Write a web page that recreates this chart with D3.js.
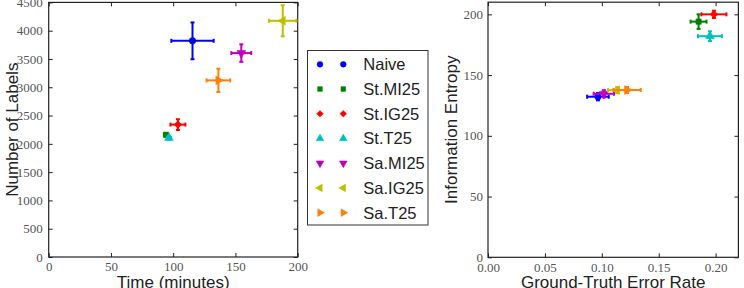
<!DOCTYPE html>
<html>
<head>
<meta charset="utf-8">
<script src="https://cdn.jsdelivr.net/npm/d3@7"></script>
<style>
  body { margin: 0; background: #fff; }
  svg { display: block; }
  .tick text { font-family: "Liberation Serif", "DejaVu Serif", serif !important; }
</style>
</head>
<body>
<svg id="chart" width="744" height="288"></svg>
<script>
(function() {
  'use strict';

  // series shown in both panels
  var seriesNames = ["Naive", "St.MI25", "St.IG25", "St.T25", "Sa.MI25", "Sa.IG25", "Sa.T25"];
  var seriesColors = ["#0000ff", "#008000", "#ff0000", "#00bfbf", "#bf00bf", "#bfbf00", "#ff7f0e"];
  var seriesMarkers = ["circle", "square", "diamond", "triUp", "triDown", "triLeft", "triRight"];

  // left panel: time vs number of labels
  var timeMinutes = [115.5, 94.2, 103.8, 96.6, 154.7, 188.0, 136.3];
  var timeErr = [17, 1.5, 6, 1.5, 8, 11, 9.5];
  var numLabels = [3821, 2160, 2340, 2105, 3604, 4175, 3122];
  var numLabelsErr = [325, 30, 95, 30, 155, 275, 205];
  var timeTicks = [0, 50, 100, 150, 200];
  var labelTicks = [0, 500, 1000, 1500, 2000, 2500, 3000, 3500, 4000, 4500];

  // right panel: error rate vs entropy
  var errorRate = [0.0966, 0.1850, 0.1985, 0.1950, 0.1018, 0.1135, 0.1222];
  var errorRateErr = [0.0095, 0.007, 0.011, 0.0105, 0.009, 0.008, 0.012];
  var entropy = [132.2, 194, 200, 182, 134.6, 137.6, 137.7];
  var entropyErr = [3, 6, 3, 4, 3, 2.5, 2.5];
  var rateTicks = [0, 0.05, 0.10, 0.15, 0.20];
  var entropyTicks = [0, 50, 100, 150, 200];

  var svg = d3.select("#chart");
  var tickFont = "Liberation Serif, DejaVu Serif, serif";
  var labelFont = "Liberation Sans, Arial, sans-serif";

  function markerPath(kind, size) {
    var sym, rot = 0;
    switch (kind) {
      case "circle": sym = d3.symbolCircle; break;
      case "square": sym = d3.symbolSquare; size = size * 0.85; break;
      case "diamond": sym = d3.symbolSquare; rot = 45; size = size * 0.85; break;
      case "triUp": sym = d3.symbolTriangle; break;
      case "triDown": sym = d3.symbolTriangle; rot = 180; break;
      case "triLeft": sym = d3.symbolTriangle; rot = -90; break;
      default: sym = d3.symbolTriangle; rot = 90;
    }
    return { d: d3.symbol().type(sym).size(size)(), rot: rot };
  }

  function drawPanel(opt) {
    var left = opt.left, top = opt.top, w = opt.width, h = opt.height;
    var g = svg.append("g").attr("transform", "translate(" + left + "," + top + ")");

    var x = d3.scaleLinear().domain(opt.xDomain).range([0, w]);
    var y = d3.scaleLinear().domain(opt.yDomain).range([h, 0]);

    // inward ticks on all four sides
    var bottom = g.append("g")
        .attr("transform", "translate(0," + h + ")")
        .call(d3.axisBottom(x).tickValues(opt.xTicks).tickFormat(opt.xFormat)
          .tickSizeInner(-4).tickSizeOuter(0).tickPadding(5));
    var leftAx = g.append("g")
        .call(d3.axisLeft(y).tickValues(opt.yTicks).tickFormat(opt.yFormat)
          .tickSizeInner(-4).tickSizeOuter(0).tickPadding(opt.yPad));
    var topAx = g.append("g")
        .call(d3.axisTop(x).tickValues(opt.xTicks).tickFormat("")
          .tickSizeInner(-4).tickSizeOuter(0));
    var rightAx = g.append("g")
        .attr("transform", "translate(" + w + ",0)")
        .call(d3.axisRight(y).tickValues(opt.yTicks).tickFormat("")
          .tickSizeInner(-4).tickSizeOuter(0));

    [bottom, leftAx, topAx, rightAx].forEach(function(a) {
      a.attr("font-family", tickFont).attr("font-size", 13);
      a.select(".domain").remove();
      a.selectAll(".tick line").attr("stroke", "#222").attr("stroke-width", 1);
      a.selectAll(".tick text").attr("fill", "#555");
    });

    g.append("rect")
        .attr("width", w).attr("height", h)
        .attr("fill", "none")
        .attr("stroke", "#222")
        .attr("stroke-width", 1.2);

    // error bars and markers
    opt.xs.forEach(function(xv, i) {
      var col = seriesColors[i];
      var cx = x(xv), cy = y(opt.ys[i]);
      var x0 = x(xv - opt.xErr[i]), x1 = x(xv + opt.xErr[i]);
      var y0 = y(opt.ys[i] - opt.yErr[i]), y1 = y(opt.ys[i] + opt.yErr[i]);
      var s = g.append("g").attr("stroke", col).attr("stroke-width", 2);
      s.append("line").attr("x1", x0).attr("x2", x1).attr("y1", cy).attr("y2", cy);
      s.append("line").attr("x1", cx).attr("x2", cx).attr("y1", y0).attr("y2", y1);
      s.append("line").attr("x1", x0).attr("x2", x0).attr("y1", cy - 2).attr("y2", cy + 2);
      s.append("line").attr("x1", x1).attr("x2", x1).attr("y1", cy - 2).attr("y2", cy + 2);
      s.append("line").attr("x1", cx - 2).attr("x2", cx + 2).attr("y1", y0).attr("y2", y0);
      s.append("line").attr("x1", cx - 2).attr("x2", cx + 2).attr("y1", y1).attr("y2", y1);
      var m = markerPath(seriesMarkers[i], 34);
      g.append("path")
          .attr("d", m.d)
          .attr("transform", "translate(" + cx + "," + cy + ") rotate(" + m.rot + ")")
          .attr("fill", col)
          .attr("stroke", col)
          .attr("stroke-width", 0.5);
    });

    // axis titles
    svg.append("text")
        .attr("x", left + w / 2)
        .attr("y", 287.5)
        .attr("text-anchor", "middle")
        .style("font-family", labelFont)
        .style("font-size", "17px")
        .attr("fill", "#222")
        .text(opt.xLabel);
    svg.append("text")
        .attr("transform", "translate(" + opt.yLabelX + "," + (top + h / 2) + ") rotate(-90)")
        .attr("text-anchor", "middle")
        .style("font-family", labelFont)
        .style("font-size", "17px")
        .attr("fill", "#222")
        .text(opt.yLabel);
  }

  drawPanel({
    left: 48.7, top: 2.4, width: 249, height: 254.6,
    xDomain: [0, 200], yDomain: [0, 4500],
    xTicks: timeTicks, yTicks: labelTicks,
    xFormat: d3.format("d"), yFormat: d3.format("d"), yPad: 6,
    xs: timeMinutes, xErr: timeErr, ys: numLabels, yErr: numLabelsErr,
    xLabel: "Time (minutes)", yLabel: "Number of Labels", yLabelX: 17.5
  });

  drawPanel({
    left: 488, top: 2.2, width: 250.4, height: 255.1,
    xDomain: [0, 0.22], yDomain: [0, 210],
    xTicks: rateTicks, yTicks: entropyTicks,
    xFormat: d3.format(".2f"), yFormat: d3.format("d"), yPad: 5,
    xs: errorRate, xErr: errorRateErr, ys: entropy, yErr: entropyErr,
    xLabel: "Ground-Truth Error Rate", yLabel: "Information Entropy", yLabelX: 456.5
  });

  // legend
  var legend = svg.append("g");
  legend.append("rect")
      .attr("x", 307.5).attr("y", 50.5)
      .attr("width", 120.5).attr("height", 174.5)
      .attr("fill", "#fff")
      .attr("stroke", "#333")
      .attr("stroke-width", 1);
  var rowY = d3.scalePoint().domain(seriesNames).range([64.3, 212.7]);
  seriesNames.forEach(function(name, i) {
    var cy = rowY(name);
    [320, 343.3].forEach(function(cx) {
      var m = markerPath(seriesMarkers[i], 26);
      legend.append("path")
          .attr("d", m.d)
          .attr("transform", "translate(" + cx + "," + cy + ") rotate(" + m.rot + ")")
          .attr("fill", seriesColors[i])
          .attr("stroke", seriesColors[i])
          .attr("stroke-width", 0.5);
    });
    legend.append("text")
        .attr("x", 363.3)
        .attr("y", cy)
        .attr("dy", "0.36em")
        .style("font-family", labelFont)
        .style("font-size", "16.5px")
        .attr("fill", "#222")
        .text(name);
  });
}());
</script>
</body>
</html>
